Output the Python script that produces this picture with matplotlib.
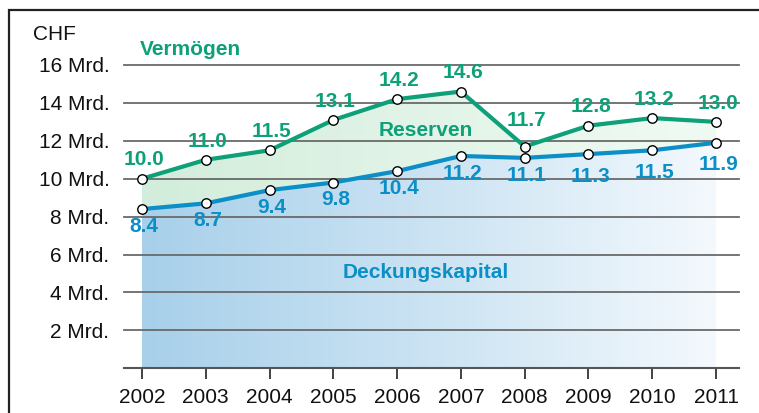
import numpy as np
import matplotlib
matplotlib.use("Agg")
import matplotlib.pyplot as plt
from matplotlib.patches import Polygon, Rectangle
from matplotlib.colors import LinearSegmentedColormap

# ---- data ----
years = [2002, 2003, 2004, 2005, 2006, 2007, 2008, 2009, 2010, 2011]
vermoegen = [10.0, 11.0, 11.5, 13.1, 14.2, 14.6, 11.7, 12.8, 13.2, 13.0]
deckungskapital = [8.4, 8.7, 9.4, 9.8, 10.4, 11.2, 11.1, 11.3, 11.5, 11.9]
ytick_values = [2, 4, 6, 8, 10, 12, 14, 16]
ytick_labels = ["2 Mrd.", "4 Mrd.", "6 Mrd.", "8 Mrd.", "10 Mrd.", "12 Mrd.", "14 Mrd.", "16 Mrd."]
unit_label = "CHF"
series_names = ["Vermögen", "Reserven", "Deckungskapital"]

GREEN = "#0ea079"
BLUE = "#0b8fc6"
FONT = "Liberation Sans"
plt.rcParams["font.family"] = [FONT, "DejaVu Sans"]

W, H = 759, 413
fig = plt.figure(figsize=(W / 100, H / 100), dpi=100)

# axes geometry (pixels)
left_px, right_px = 124, 739
bottom_px, top_px = 368.3, 65
ax = fig.add_axes([left_px / W, 1 - bottom_px / H, (right_px - left_px) / W, (bottom_px - top_px) / H])
px_per_year = 63.8
x0 = years[0] - (142 - left_px) / px_per_year
x1 = years[-1] + (right_px - 716) / px_per_year
ax.set_xlim(x0, x1)
ax.set_ylim(0, 16)

x = np.array(years, dtype=float)
g = np.array(vermoegen)
b = np.array(deckungskapital)

# gradient fills
blue_cmap = LinearSegmentedColormap.from_list("b", ["#a8d0ea", "#cbe3f3", "#f4f9fd"])
green_cmap = LinearSegmentedColormap.from_list("g", ["#d2eddb", "#e2f4e8", "#f0faf3"])
grad = np.linspace(0, 1, 256).reshape(1, -1)

blue_poly = Polygon(list(zip(x, b)) + [(x[-1], 0), (x[0], 0)], closed=True,
                    facecolor="none", edgecolor="none", transform=ax.transData)
ax.add_patch(blue_poly)
im_b = ax.imshow(grad, extent=[x[0], x[-1], 0, 16], aspect="auto", cmap=blue_cmap,
                 origin="lower", zorder=1, interpolation="bilinear")
im_b.set_clip_path(blue_poly)

green_poly = Polygon(list(zip(x, g)) + list(zip(x[::-1], b[::-1])), closed=True,
                     facecolor="none", edgecolor="none", transform=ax.transData)
ax.add_patch(green_poly)
im_g = ax.imshow(grad, extent=[x[0], x[-1], 0, 16], aspect="auto", cmap=green_cmap,
                 origin="lower", zorder=1, interpolation="bilinear")
im_g.set_clip_path(green_poly)

# gridlines
for v in ytick_values:
    ax.axhline(v, color="#6a6a6a", lw=1.3, zorder=2, clip_on=False)
ax.axhline(0, color="#555555", lw=1.5, zorder=2, clip_on=False)

# lines
ax.plot(x, b, color=BLUE, lw=3, zorder=3, solid_capstyle="round")
ax.plot(x, g, color=GREEN, lw=3, zorder=3, solid_capstyle="round")
ax.plot(x, b, ls="none", marker="o", ms=6.8, mfc="white", mec="black", mew=1.0, zorder=4)
ax.plot(x, g, ls="none", marker="o", ms=6.8, mfc="white", mec="black", mew=1.0, zorder=4)

# value labels
fs = 15
for i, (xi, v) in enumerate(zip(x, g)):
    dy = 19 if years[i] == 2008 else 13.5
    ax.annotate(f"{v:.1f}", (xi, v), xytext=(1.5, dy), textcoords="offset points",
                ha="center", va="center", color=GREEN, fontsize=fs, fontweight="bold",
                zorder=5, annotation_clip=False)
for i, (xi, v) in enumerate(zip(x, b)):
    dy = -16 if years[i] >= 2009 else -12.5
    ax.annotate(f"{v:.1f}", (xi, v), xytext=(1.5, dy), textcoords="offset points",
                ha="center", va="center", color=BLUE, fontsize=fs, fontweight="bold",
                zorder=5, annotation_clip=False)

# series names
fig.text(140 / W, 1 - 49.5 / H, series_names[0], color=GREEN, fontsize=fs, fontweight="bold",
         ha="left", va="center")
fig.text(426 / W, 1 - 131 / H, series_names[1], color=GREEN, fontsize=fs, fontweight="bold",
         ha="center", va="center")
fig.text(426 / W, 1 - 273 / H, series_names[2], color=BLUE, fontsize=fs, fontweight="bold",
         ha="center", va="center")
fig.text(33 / W, 1 - 34 / H, unit_label, color="#111111", fontsize=fs, ha="left", va="center")

# ticks
ax.set_yticks(ytick_values)
ax.set_yticklabels(ytick_labels, fontsize=fs, color="#111111")
ax.tick_params(axis="y", length=0, pad=10.5)
ax.set_xticks(years)
ax.set_xticklabels([str(y) for y in years], fontsize=fs, color="#111111")
ax.tick_params(axis="x", length=8, width=1.3, color="#333333", pad=6.5, direction="out")
for s in ax.spines.values():
    s.set_visible(False)
ax.patch.set_visible(False)

# frame
fig.add_artist(Rectangle((9 / W, -0.1), 1.2, (1 - 10 / H) + 0.1, transform=fig.transFigure,
                         fill=False, lw=1.6, ec="#222222"))

fig.savefig("out.png", dpi=100)
